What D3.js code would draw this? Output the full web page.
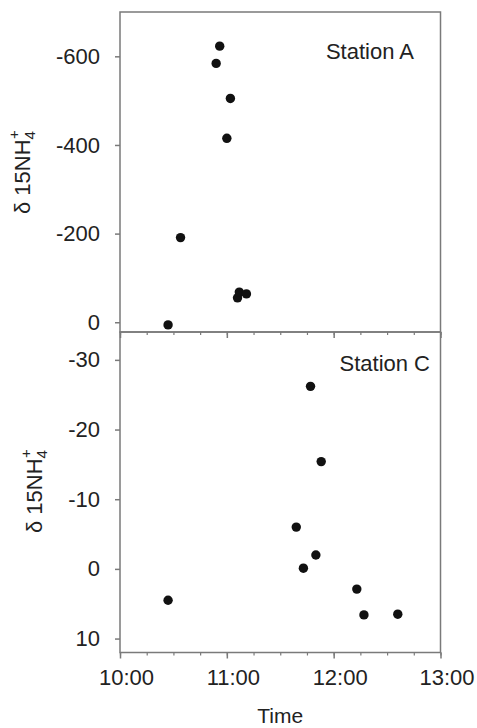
<!DOCTYPE html>
<html>
<head>
<meta charset="utf-8">
<title>Station A / Station C</title>
<style>
  body { margin: 0; background: #fff; }
  text { font-family: "Liberation Sans", Arial, sans-serif; fill: #222; }
</style>
</head>
<body>
<svg id="chart" width="477" height="728"></svg>
<script src="https://d3js.org/d3.v7.min.js"></script>
<script>
// Station A (top panel)
var stationATimes = ["10:27", "10:34", "10:54", "10:56", "11:02", "11:00", "11:06", "11:07", "11:11"];
var stationAValues = [6, -191, -584, -623, -505, -415, -55, -68, -64];
var stationATicks = [0, -200, -400, -600];

// Station C (bottom panel)
var stationCTimes = ["10:27", "11:47", "11:53", "11:39", "11:50", "11:43", "12:13", "12:17", "12:36"];
var stationCValues = [4.5, -26.2, -15.4, -6.0, -2.0, -0.1, 2.9, 6.6, 6.5];
var stationCTicks = [10, 0, -10, -20, -30];

var timeTicks = ["10:00", "11:00", "12:00", "13:00"];

function toDate(s) {
  var p = s.split(":");
  return new Date(2000, 0, 1, +p[0], +p[1]);
}

var svg = d3.select("#chart");
var left = 120, right = 440.5;
var grey = "#7a7a7a";

var x = d3.scaleTime()
  .domain([toDate("10:00"), toDate("13:00")])
  .range([left, right]);

var panels = [
  { name: "Station A", times: stationATimes, values: stationAValues, ticks: stationATicks,
    domain: [22, -700], top: 12, bottom: 332, labelX: 414, labelY: 59, axisLabelX: 30, axisLabelY: 214, showX: false },
  { name: "Station C", times: stationCTimes, values: stationCValues, ticks: stationCTicks,
    domain: [12, -34], top: 332, bottom: 652.5, labelX: 430, labelY: 371, axisLabelX: 42, axisLabelY: 533, showX: true }
];

panels.forEach(function (p) {
  var y = d3.scaleLinear().domain(p.domain).range([p.bottom, p.top]);
  var g = svg.append("g");

  // frame
  g.append("rect")
    .attr("x", left).attr("y", p.top)
    .attr("width", right - left).attr("height", p.bottom - p.top)
    .attr("fill", "none").attr("stroke", grey).attr("stroke-width", 1.5);

  // y axis
  var yAxis = g.append("g")
    .attr("transform", "translate(" + left + ",0)")
    .call(d3.axisLeft(y).tickValues(p.ticks).tickSize(5).tickPadding(15));
  yAxis.select(".domain").remove();
  yAxis.selectAll("line").attr("stroke", grey).attr("stroke-width", 1.5);
  yAxis.selectAll("text").attr("font-size", 22).attr("fill", "#222")
    .attr("font-family", "Liberation Sans, Arial, sans-serif")
    .text(function (d) { return String(d); });

  // x minor ticks
  var minor = g.append("g")
    .attr("transform", "translate(0," + p.bottom + ")")
    .call(d3.axisBottom(x).ticks(d3.timeMinute.every(15)).tickSize(3).tickFormat(""));
  minor.select(".domain").remove();
  minor.selectAll("line").attr("stroke", grey).attr("stroke-width", 1.2);

  // x major ticks
  var xAxis = g.append("g")
    .attr("transform", "translate(0," + p.bottom + ")")
    .call(d3.axisBottom(x).tickValues(timeTicks.map(toDate)).tickSize(6).tickPadding(11)
      .tickFormat(p.showX ? d3.timeFormat("%H:%M") : ""));
  xAxis.select(".domain").remove();
  xAxis.selectAll("line").attr("stroke", grey).attr("stroke-width", 1.5);
  xAxis.selectAll("text").attr("font-size", 22).attr("fill", "#222").attr("dx", 6)
    .attr("font-family", "Liberation Sans, Arial, sans-serif");

  // points
  g.selectAll("circle")
    .data(p.times.map(function (t, i) { return { t: toDate(t), v: p.values[i] }; }))
    .enter().append("circle")
    .attr("cx", function (d) { return x(d.t); })
    .attr("cy", function (d) { return y(d.v); })
    .attr("r", 4.7)
    .attr("fill", "#111");

  // station label
  g.append("text")
    .attr("x", p.labelX).attr("y", p.labelY)
    .attr("text-anchor", "end")
    .attr("font-size", 22)
    .text(p.name);

  // y axis title
  var t = g.append("text")
    .attr("transform", "translate(" + p.axisLabelX + "," + p.axisLabelY + ") rotate(-90)")
    .attr("text-anchor", "start")
    .attr("font-size", 22);
  t.append("tspan").text("\u03b4 15NH");
  t.append("tspan").attr("font-size", 15).attr("dy", 5).text("4");
  t.append("tspan").attr("font-size", 15).attr("dy", -16).attr("dx", -8).text("+");
});

// x axis title
svg.append("text")
  .attr("x", (left + right) / 2).attr("y", 723)
  .attr("text-anchor", "middle")
  .attr("font-size", 21)
  .text("Time");
</script>
</body>
</html>
